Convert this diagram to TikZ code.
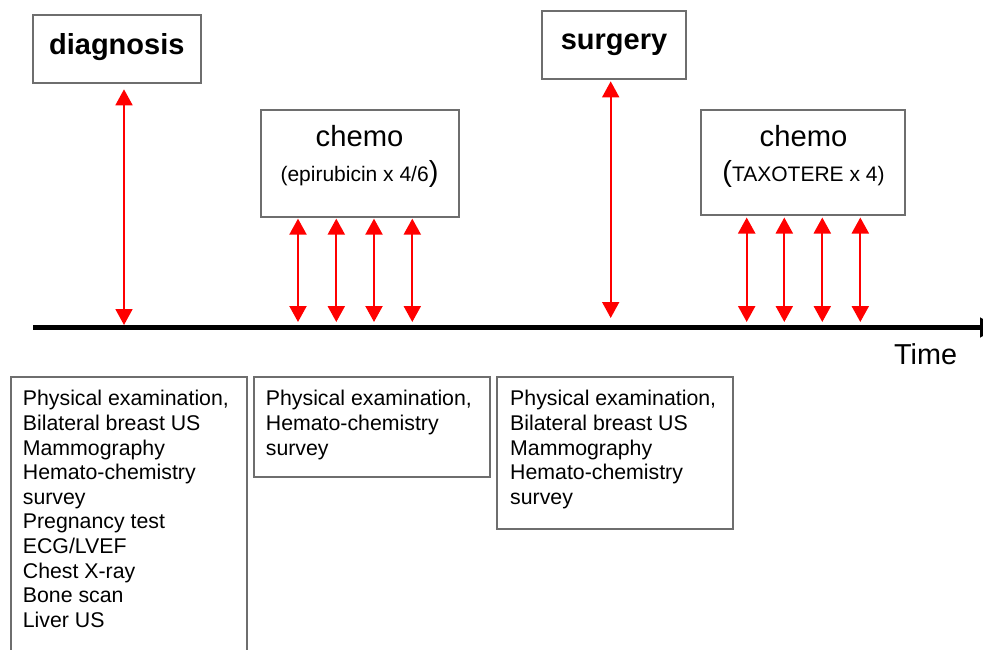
\documentclass[tikz,border=0pt]{standalone}
\usepackage{fontspec}
\setmainfont{Liberation Sans}
\usetikzlibrary{arrows.meta,calc}
\definecolor{boxgray}{RGB}{110,110,110}
\definecolor{tickred}{RGB}{255,0,0}

\begin{document}
\begin{tikzpicture}[x=1pt,y=-1pt,
  box/.style={draw=boxgray, line width=2pt, rectangle, inner sep=0pt, fill=white},
  link/.style={draw=tickred, line width=2.2pt,
    {Triangle[length=16pt,width=17pt]}-{Triangle[length=16pt,width=17pt]}},
  longlink/.style={link, line width=1.8pt},
  headline/.style={inner sep=0pt, anchor=base, font=\fontsize{29}{34}\selectfont\bfseries},
  bigline/.style={inner sep=0pt, anchor=base, font=\fontsize{29.2}{34}\selectfont},
  drugline/.style={inner sep=0pt, anchor=base, font=\fontsize{21}{24}\selectfont},
  listtext/.style={inner sep=0pt, anchor=north west, align=left,
    font=\fontsize{21.3}{24.6}\selectfont},
]
\useasboundingbox (0,0) rectangle (983,650);
\clip (0,0) rectangle (983,650);

% time axis
\coordinate (t0) at (33,327.5);
\coordinate (t1) at (998,327.5);
\draw[line width=5.5pt, -{Triangle[length=18pt,width=19pt]}] (t0) -- (t1);
\node[inner sep=0pt, anchor=base west, font=\fontsize{28.8}{34}\selectfont] (time) at (894,364) {Time};

% event boxes above the axis
\node[box, minimum width=168.5pt, minimum height=68pt] (diag) at (117,49.3) {};
\node[headline] (diagtxt) at (116.8,54.3) {diagnosis};

\node[box, minimum width=144.6pt, minimum height=68.3pt] (surg) at (614,45.2) {};
\node[headline] (surgtxt) at (614,50) {surgery};

\node[box, minimum width=198pt, minimum height=106.7pt] (chemoA) at (360,163.3) {};
\node[bigline] (chemoAtxt) at (359.5,146.7) {chemo};
\node[drugline] (chemoAdrug) at (359.5,181.7) {(epirubicin x 4/6{\fontsize{29}{34}\selectfont)}};

\node[box, minimum width=204pt, minimum height=105pt] (chemoB) at (803.3,162.5) {};
\node[bigline] (chemoBtxt) at (803.5,146.7) {chemo};
\node[drugline] (chemoBdrug) at (803.5,181.7) {{\fontsize{29}{34}\selectfont(}TAXOTERE x 4)};

% links between events and the axis
\draw[longlink, shorten <=5pt, shorten >=2.5pt]
  ([xshift=7pt]diag.south) -- ([xshift=7pt]diag.south |- t0);
\draw[longlink, shorten <=1pt, shorten >=9.5pt]
  ([xshift=-3.3pt]surg.south) -- ([xshift=-3.3pt]surg.south |- t0);
\foreach \dx in {38,76.3,114,152.3} {
  \draw[link, shorten <=1pt, shorten >=5.5pt]
    ([xshift=\dx pt]chemoA.south west) -- ([xshift=\dx pt]chemoA.south west |- t0);
}
\foreach \dx in {46.4,84,122,160} {
  \draw[link, shorten <=1.5pt, shorten >=5.5pt]
    ([xshift=\dx pt]chemoB.south west) -- ([xshift=\dx pt]chemoB.south west |- t0);
}

% examination lists below the axis
\node[box, anchor=north west, minimum width=236pt, minimum height=300pt] (examA) at (10,376) {};
\node[listtext] (examAtxt) at ([xshift=12.7pt,yshift=-14.3pt]examA.north west)
  {Physical examination,\\Bilateral breast US\\Mammography\\Hemato-chemistry\\survey\\Pregnancy test\\ECG/LVEF\\Chest X-ray\\Bone scan\\Liver US};

\node[box, anchor=north west, minimum width=236pt, minimum height=99.7pt] (examB) at (253.3,376) {};
\node[listtext] (examBtxt) at ([xshift=12.4pt,yshift=-14.3pt]examB.north west)
  {Physical examination,\\Hemato-chemistry\\survey};

\node[box, anchor=north west, minimum width=236.3pt, minimum height=152.3pt] (examC) at (496,376) {};
\node[listtext] (examCtxt) at ([xshift=14pt,yshift=-14.3pt]examC.north west)
  {Physical examination,\\Bilateral breast US\\Mammography\\Hemato-chemistry\\survey};
\end{tikzpicture}
\end{document}
